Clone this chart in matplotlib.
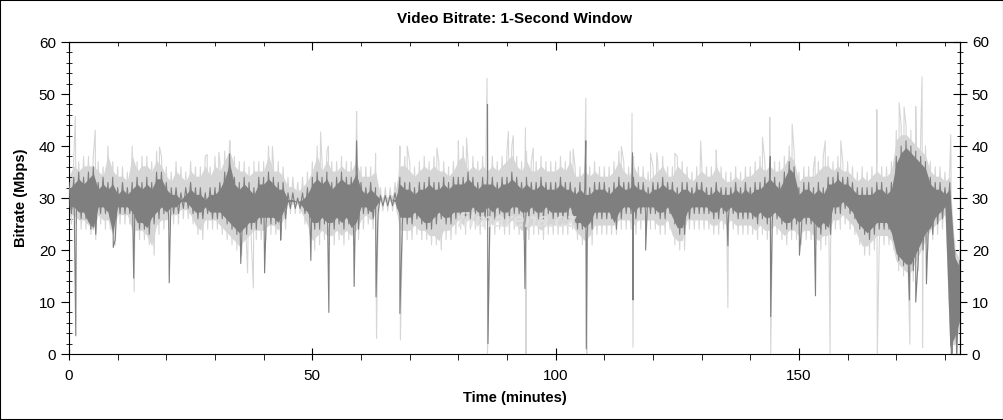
import numpy as np
import matplotlib.pyplot as plt
from matplotlib.patches import Rectangle
from matplotlib.ticker import MultipleLocator, NullFormatter

plt.rcParams['font.family'] = ['Liberation Sans', 'DejaVu Sans']

# per-minute envelope (minutes 0..183)
minutes = np.arange(184)

dark_hi = [33, 34, 35, 34, 35, 36, 33, 34, 33, 34,
           32, 33, 32, 33, 34, 33, 34, 33, 35, 35,
           33, 32, 32, 31, 32, 33, 32, 32, 31, 32,
           32, 33, 35, 38, 34, 33, 34, 33, 32, 34,
           34, 35, 34, 33, 33, 31, 31, 30, 31, 32,
           34, 35, 34, 35, 33, 34, 35, 34, 34, 36,
           33, 32, 33, 32, 30.5, 30.5, 30.5, 31, 34, 33,
           33, 32, 33, 33, 34, 33, 33, 34, 33, 34,
           34, 34, 35, 34, 33, 34, 34, 34, 33, 34,
           34, 35, 34, 33, 34, 33, 33, 34, 33, 33,
           33, 34, 33, 33, 32, 33, 32, 32, 33, 33,
           33, 32, 33, 34, 33, 33, 34, 33, 33, 32,
           33, 33, 34, 33, 33, 32, 33, 33, 32, 33,
           33, 32, 32, 33, 32, 32, 32, 33, 32, 33,
           32, 33, 33, 34, 35, 34, 33, 35, 37, 36,
           32, 33, 33, 32, 33, 32, 34, 34, 35, 34,
           34, 33, 32, 32, 32, 32, 33, 33, 32, 33,
           38, 40, 41, 40, 39, 38, 37, 34, 33, 33,
           32, 33, 20, 18]
dark_lo = [27, 27, 26, 26, 24, 23, 27, 27, 26, 22,
           27, 27, 27, 26, 24, 24, 23, 25, 26, 27,
           26, 27, 27, 28, 28, 27, 26, 26, 27, 26,
           26, 26, 25, 24, 23, 22, 23, 24, 24, 25,
           25, 25, 25, 24, 26, 28, 28, 28, 27, 26,
           24, 24, 25, 24, 24, 25, 24, 25, 23, 24,
           27, 27, 26, 27, 28.5, 28.5, 28.5, 28, 25, 25,
           25, 26, 25, 24, 24, 25, 26, 25, 25, 26,
           26, 26, 26, 27, 26, 26, 27, 26, 27, 26,
           26, 27, 27, 26, 26, 27, 26, 26, 27, 26,
           26, 26, 26, 27, 24, 24, 23, 24, 26, 26,
           26, 26, 24, 26, 27, 27, 26, 27, 27, 27,
           27, 26, 26, 27, 25, 23, 23, 26, 27, 27,
           27, 27, 26, 26, 27, 26, 27, 26, 26, 26,
           26, 25, 26, 25, 25, 26, 25, 24, 24, 25,
           24, 25, 25, 24, 23, 24, 23, 27, 27, 28,
           27, 26, 24, 23, 22, 23, 24, 24, 24, 22,
           18, 17, 16, 16, 18, 20, 22, 23, 25, 26,
           27, 0, 2, 5]
light_hi = [36, 38, 37, 38, 38, 38, 37, 36, 40, 37,
            36, 36, 35, 40, 37, 38, 38, 37, 39, 38,
            36, 35, 37, 36, 35, 37, 36, 36, 38, 36,
            38, 37, 39, 41, 38, 37, 37, 36, 37, 37,
            37, 40, 37, 37, 36, 34, 34, 33, 34, 35,
            37, 40, 37, 39, 37, 37, 38, 37, 37, 39,
            36, 36, 36, 37, 32, 32, 32, 33, 38, 38,
            37, 36, 37, 38, 37, 38, 37, 37, 36, 37,
            39, 40, 37, 38, 37, 38, 37, 38, 37, 38,
            39, 40, 38, 37, 39, 37, 37, 38, 37, 37,
            37, 38, 37, 39, 36, 36, 37, 36, 37, 36,
            36, 36, 37, 39, 37, 36, 38, 36, 36, 35,
            36, 37, 38, 36, 36, 38, 37, 36, 35, 36,
            37, 36, 36, 38, 36, 35, 35, 36, 35, 36,
            36, 37, 38, 37, 38, 37, 37, 38, 40, 39,
            35, 36, 36, 36, 37, 38, 38, 37, 38, 37,
            37, 36, 35, 36, 35, 36, 37, 36, 36, 37,
            43, 44, 44, 43, 42, 41, 40, 37, 36, 36,
            35, 36, 22, 20]
light_lo = [25, 25, 24, 24, 23, 22, 25, 24, 24, 21,
            25, 25, 25, 22, 22, 22, 21, 19, 23, 24,
            24, 25, 25, 26, 26, 25, 23, 22, 24, 24,
            24, 23, 22, 21, 20, 19, 20, 21, 22, 22,
            22, 23, 23, 22, 24, 27, 27, 27, 25, 23,
            20, 21, 22, 21, 21, 22, 21, 22, 21, 22,
            24, 25, 24, 25, 27.5, 27.5, 27.5, 27, 22, 22,
            22, 23, 22, 22, 21, 21, 20, 22, 22, 23,
            24, 23, 24, 24, 23, 24, 24, 23, 24, 23,
            23, 24, 23, 22, 22, 23, 23, 22, 23, 23,
            23, 23, 23, 24, 22, 21, 20, 21, 23, 23,
            23, 23, 23, 24, 24, 24, 23, 24, 24, 24,
            24, 23, 23, 24, 21, 20, 20, 24, 24, 24,
            24, 24, 23, 23, 24, 23, 24, 23, 23, 23,
            23, 22, 23, 22, 22, 23, 22, 21, 22, 22,
            21, 22, 22, 21, 20, 21, 21, 24, 24, 25,
            24, 23, 21, 19, 19, 20, 21, 21, 21, 20,
            16, 15, 14, 14, 16, 18, 20, 22, 23, 24,
            25, 0, 0, 3]

# isolated peaks and drops
dark_spike_t = [1.4, 9.1, 13.3, 20.6, 33.0, 35.3, 40.2, 43.5, 49.7, 53.4,
                58.6, 59.1, 63.1, 68.0, 86.0, 86.1, 93.7, 106.2, 106.3, 115.8,
                115.9, 118.5, 135.4, 144.1, 144.2, 150.1, 153.4, 172.7, 174.0, 176.2,
                181.3, 181.8, 182.4]
dark_spike_v = [3.5, 20.5, 14.6, 13.7, 38.5, 17.4, 15.6, 21.9, 18, 8,
                13, 41, 11, 7.8, 48, 2, 12.6, 41, 1, 38.7,
                10.4, 20, 20.8, 38, 7.2, 19, 11.2, 10.4, 10, 13.5,
                0, 19, 0]
light_spike_t = [1.3, 5.4, 8.0, 13.4, 18.6, 28.4, 30.8, 33.1, 36.7, 37.9,
                 41.8, 51.7, 53.3, 59.1, 63.0, 63.2, 68.0, 68.1, 69.5, 75.6,
                 80.0, 81.7, 85.9, 86.0, 90.3, 91.3, 93.8, 93.9, 95.4, 103.6,
                 106.2, 106.4, 113.5, 115.7, 115.9, 119.5, 120.8, 124.5, 129.8, 133.0,
                 135.4, 142.5, 144.0, 144.2, 148.6, 153.3, 155.4, 156.4, 158.6, 166.0,
                 166.1, 170.6, 171.6, 172.8, 174.0, 175.3, 175.4, 181.2]
light_spike_v = [45.7, 43, 40, 12, 39.8, 38.4, 38.8, 41, 15.6, 12.7,
                 39.9, 42.7, 40, 46.6, 38.6, 3, 40, 2.7, 40, 39.6,
                 41, 41.5, 53, 0, 42.8, 42, 43.5, 0, 39.6, 39.4,
                 49.2, 0, 39.9, 46.3, 1.3, 38.6, 38.7, 38.6, 41, 39.2,
                 8.9, 41.7, 45.5, 0, 44.2, 38, 41, 0, 41, 47,
                 0, 48.3, 47.5, 1.9, 47.6, 53.3, 1.3, 42.2]


def trace(hi, lo, spike_t, spike_v):
    t = np.concatenate([minutes, minutes + 0.5, spike_t])
    v = np.concatenate([hi, lo, spike_v])
    order = np.argsort(t, kind='stable')
    return t[order], v[order]


fig = plt.figure(figsize=(10.04, 4.2), dpi=100)
ax = fig.add_axes([0.0687, 0.157, 0.8875, 0.743])

light_c = '#d6d6d6'
dark_c = '#7f7f7f'

# body of each series, then the jagged trace with its spikes on top
lo_l = np.array(light_lo, dtype=float)
hi_l = np.array(light_hi, dtype=float)
ax.fill_between(minutes, lo_l + 1.8, np.maximum(hi_l - 1.8, lo_l + 1.8),
                color=light_c, lw=0, zorder=1)
lt, lv = trace(light_hi, light_lo, light_spike_t, light_spike_v)
ax.plot(lt, lv, color=light_c, lw=0.8, zorder=2)

lo_d = np.array(dark_lo, dtype=float)
hi_d = np.array(dark_hi, dtype=float)
ax.fill_between(minutes, lo_d + 1.3, np.maximum(hi_d - 1.3, lo_d + 1.3),
                color=dark_c, lw=0, zorder=3)
dt, dv = trace(dark_hi, dark_lo, dark_spike_t, dark_spike_v)
ax.plot(dt, dv, color=dark_c, lw=0.8, zorder=4)

ax.text(92, 25.5, 'filmarena.cz', color='#e2e2e2', alpha=0.85, fontsize=15,
        fontweight='bold', style='italic', ha='center', va='center', zorder=5)

ax.set_xlim(0, 183.1)
ax.set_ylim(0, 60)
ax.xaxis.set_major_locator(MultipleLocator(50))
ax.xaxis.set_minor_locator(MultipleLocator(10))
ax.yaxis.set_major_locator(MultipleLocator(10))
ax.yaxis.set_minor_locator(MultipleLocator(2))
ax.tick_params(axis='x', which='major', direction='inout', length=9, labelsize=11, pad=6)
ax.tick_params(axis='x', which='minor', direction='out', length=4)
ax.tick_params(axis='y', which='major', direction='out', length=6, labelsize=11)
ax.tick_params(axis='y', which='minor', direction='inout', length=5)

top = ax.secondary_xaxis('top')
top.xaxis.set_major_locator(MultipleLocator(50))
top.xaxis.set_minor_locator(MultipleLocator(10))
top.xaxis.set_major_formatter(NullFormatter())
top.tick_params(which='major', direction='in', length=6)
top.tick_params(which='minor', direction='in', length=3)

right = ax.secondary_yaxis('right')
right.yaxis.set_major_locator(MultipleLocator(10))
right.yaxis.set_minor_locator(MultipleLocator(2))
right.tick_params(which='major', direction='inout', length=10, labelsize=11)
right.tick_params(which='minor', direction='inout', length=5)

ax.set_title('Video Bitrate: 1-Second Window', fontsize=11, fontweight='bold', pad=14)
ax.set_xlabel('Time (minutes)', fontsize=10.5, fontweight='bold', labelpad=6)
ax.set_ylabel('Bitrate (Mbps)', fontsize=10.5, fontweight='bold', labelpad=8)

fig.patches.append(Rectangle((0, 0), 1, 1, transform=fig.transFigure, fill=False,
                             edgecolor='black', lw=1.5))

fig.savefig('out.png', dpi=100)
